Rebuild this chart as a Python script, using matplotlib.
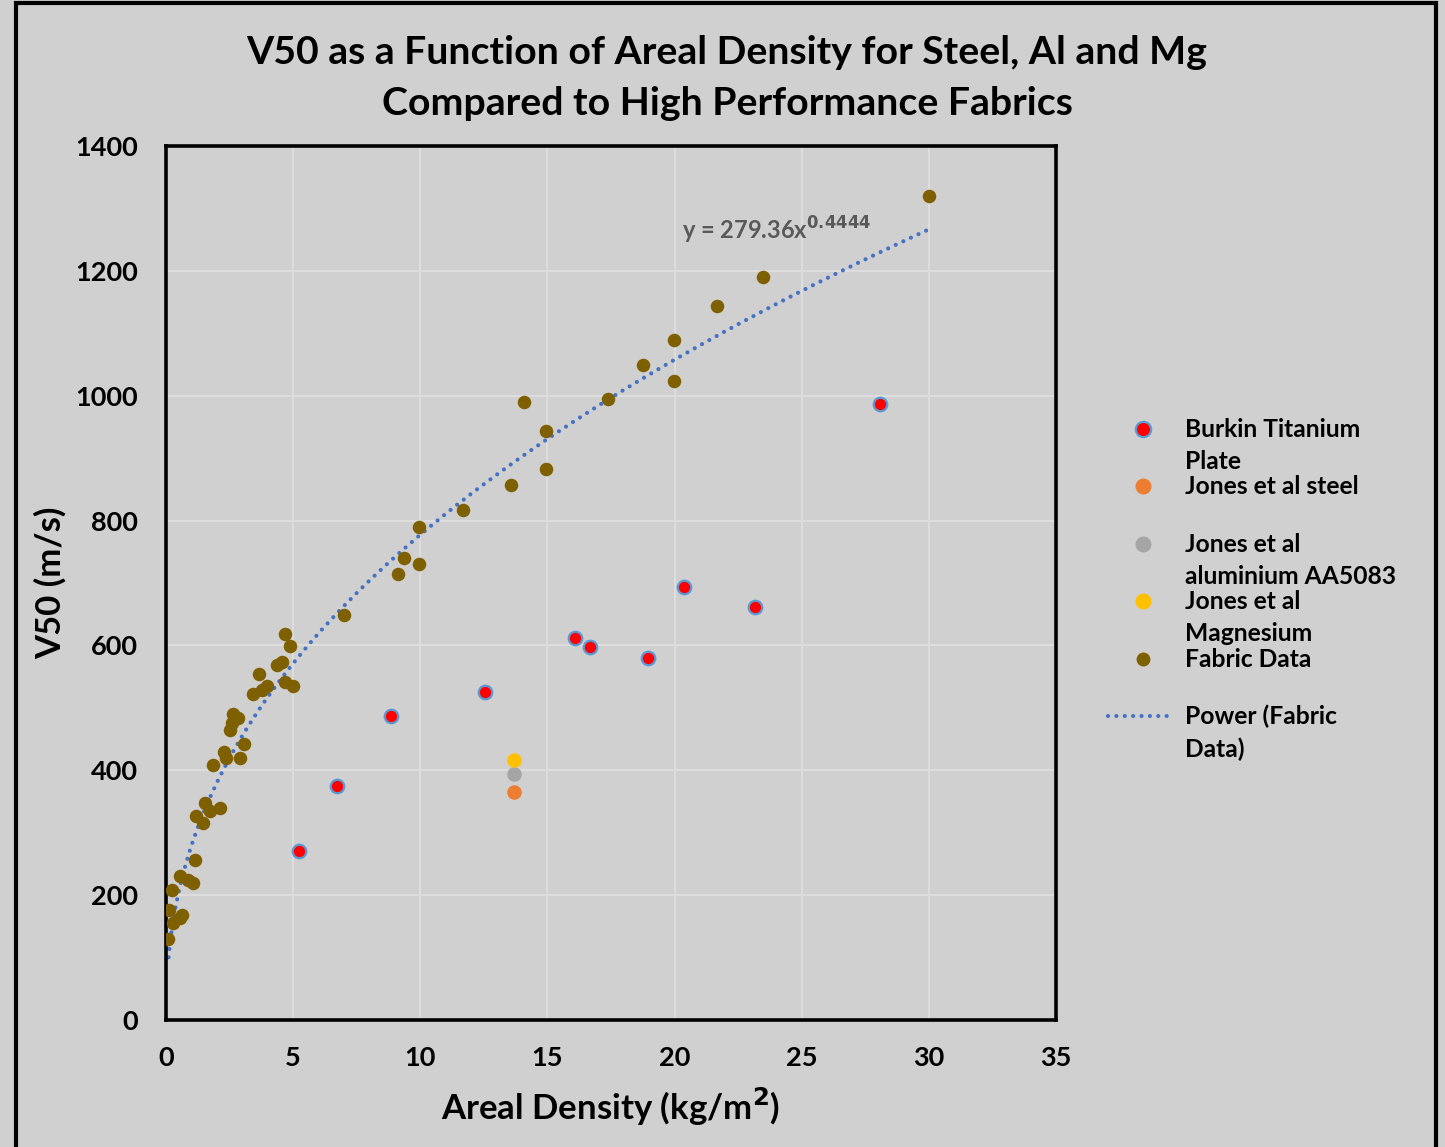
import matplotlib
matplotlib.use("Agg")
import matplotlib.pyplot as plt
import numpy as np
from matplotlib.lines import Line2D
from matplotlib.patches import Rectangle

plt.rcParams['font.family'] = ['Lato', 'DejaVu Sans']

# ---------------- data ----------------
fabric_x = [0.09, 0.13, 0.22, 0.29, 0.55, 0.55, 0.62, 0.88, 1.05, 1.14, 1.18, 1.47, 1.53,
            1.73, 2.12, 1.86, 2.28, 2.36, 2.52, 2.58, 2.62, 2.84, 2.91, 3.08, 3.43, 3.67,
            3.76, 3.96, 4.35, 4.55, 4.68, 4.88, 4.68, 4.98, 7.0, 9.12, 9.36, 9.95, 9.95,
            11.68, 13.57, 14.08, 14.94, 14.94, 17.38, 18.76, 19.98, 19.98, 21.67, 23.48, 30.0]
fabric_y = [129, 177, 208, 155, 230, 163, 168, 225, 219, 257, 326, 316, 348,
            335, 340, 408, 430, 419, 465, 475, 490, 484, 419, 442, 522, 554,
            529, 535, 569, 574, 619, 599, 542, 535, 649, 714, 740, 790, 730,
            817, 857, 990, 943, 883, 995, 1049, 1089, 1024, 1144, 1190, 1320]

titanium_x = [5.23, 6.72, 8.85, 12.54, 16.08, 16.67, 18.95, 20.37, 23.16, 28.08]
titanium_y = [271, 375, 487, 525, 612, 597, 580, 694, 662, 987]

steel_x = [13.68]
steel_y = [365]
alum_x = [13.68]
alum_y = [394]
mag_x = [13.68]
mag_y = [416]

fit_a = 279.36
fit_b = 0.4444
fit_xrange = [0.1, 30.0]

x_ticks = [0, 5, 10, 15, 20, 25, 30, 35]
y_ticks = [0, 200, 400, 600, 800, 1000, 1200, 1400]

title = "V50 as a Function of Areal Density for Steel, Al and Mg\nCompared to High Performance Fabrics"
xlabel = "Areal Density (kg/m$^\\mathbf{2}$)"
ylabel = "V50 (m/s)"
legend_labels = ["Burkin Titanium\nPlate", "Jones et al steel", "Jones et al\naluminium AA5083",
                 "Jones et al\nMagnesium", "Fabric Data", "Power (Fabric\nData)"]

# ---------------- style ----------------
BG = '#d0d0d0'
GRID = '#dddddd'
C_FAB = '#7f6000'
C_TI = '#ff0000'
C_TI_EDGE = '#5b9bd5'
C_STEEL = '#ed7d31'
C_AL = '#a5a5a5'
C_MG = '#ffc000'
C_FIT = '#4472c4'
FIT_LS = (0, (0.01, 2.0))

W, H = 1445, 1147
fig = plt.figure(figsize=(W / 100, H / 100), dpi=100, facecolor=BG)

ax = fig.add_axes([166 / W, 1 - 1020 / H, (1056 - 166) / W, (1020 - 146) / H])
ax.set_facecolor(BG)
ax.set_xlim(0, 35)
ax.set_ylim(0, 1400)
ax.set_xticks(x_ticks)
ax.set_yticks(y_ticks)
ax.grid(True, color=GRID, linewidth=1.5)
ax.set_axisbelow(True)
ax.tick_params(length=0, labelsize=19.5, pad=19)
ax.tick_params(axis='y', pad=20)
for lab in ax.get_xticklabels() + ax.get_yticklabels():
    lab.set_fontweight('bold')
for s in ax.spines.values():
    s.set_color('black')
    s.set_linewidth(2.6)

# trend line
xf = np.linspace(fit_xrange[0], fit_xrange[1], 400)
ax.plot(xf, fit_a * xf ** fit_b, color=C_FIT, linewidth=3.0,
        linestyle=FIT_LS, dash_capstyle='round', zorder=2)

ax.scatter(fabric_x, fabric_y, s=95, color=C_FAB, zorder=3, linewidths=0)
ax.scatter(titanium_x, titanium_y, s=95, color=C_TI, edgecolors=C_TI_EDGE, linewidths=1.6, zorder=3)
ax.scatter(steel_x, steel_y, s=110, color=C_STEEL, linewidths=0, zorder=3)
ax.scatter(alum_x, alum_y, s=110, color=C_AL, linewidths=0, zorder=3)
ax.scatter(mag_x, mag_y, s=110, color=C_MG, linewidths=0, zorder=3)

ax.text(20.3, 1265, "y = 279.36x$^{\\mathbf{0.4444}}$", color='#595959', fontsize=17,
        fontweight='bold', va='center', ha='left')

ax.set_xlabel(xlabel, fontsize=25, fontweight='bold', labelpad=11)
ax.set_ylabel(ylabel, fontsize=25, fontweight='bold', labelpad=6)

fig.text(727 / W, 1 - 78 / H, title, ha='center', va='center', fontsize=28.3,
         fontweight='bold', linespacing=1.56)

# legend (manual)
leg_y = [429, 486, 544, 601, 659, 716]
styles = [dict(mfc=C_TI, mec=C_TI_EDGE, mew=1.6, ms=11),
          dict(mfc=C_STEEL, mec=C_STEEL, mew=0, ms=11.5),
          dict(mfc=C_AL, mec=C_AL, mew=0, ms=11.5),
          dict(mfc=C_MG, mec=C_MG, mew=0, ms=11.5),
          dict(mfc=C_FAB, mec=C_FAB, mew=0, ms=10)]
for yy, st in zip(leg_y[:5], styles):
    fig.add_artist(Line2D([1143 / W], [1 - yy / H], marker='o', linestyle='none',
                          transform=fig.transFigure, **st))
fig.add_artist(Line2D([1108 / W, 1172 / W], [1 - 716 / H, 1 - 716 / H], color=C_FIT,
                      linewidth=3.0, linestyle=FIT_LS, dash_capstyle='round',
                      transform=fig.transFigure))
for yy, lab in zip(leg_y, legend_labels):
    fig.text(1185 / W, 1 - (yy - 11) / H, lab, ha='left', va='top', fontsize=17.7,
             fontweight='bold', linespacing=1.47)

# outer border
fig.add_artist(Rectangle((16 / W, -0.05), (1436 - 16) / W, 1 - 3 / H + 0.05,
                         transform=fig.transFigure, fill=False, edgecolor='black',
                         linewidth=3, clip_on=False))

fig.savefig('out.png', dpi=100, facecolor=BG)
